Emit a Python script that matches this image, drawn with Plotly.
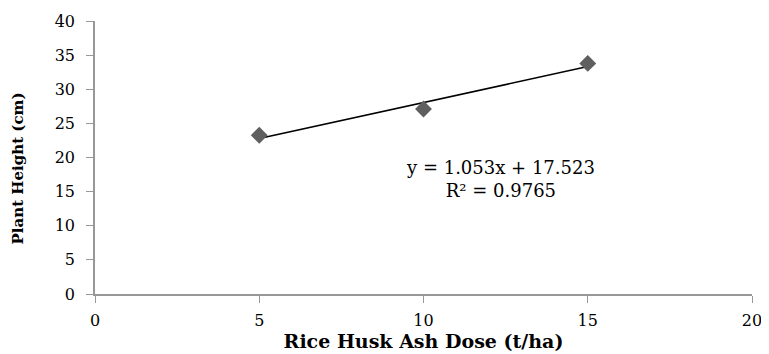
import plotly.graph_objects as go

dose = [5, 10, 15]
height = [23.26, 27.11, 33.79]
slope = 1.053
intercept = 17.523
trend_x = [5, 15]
trend_y = [slope * x + intercept for x in trend_x]
eq_text = "y = 1.053x + 17.523<br>R² = 0.9765"
x_title = "Rice Husk Ash Dose (t/ha)"
y_title = "Plant Height (cm)"

font_family = "DejaVu Serif"

fig = go.Figure()
fig.add_trace(go.Scatter(x=trend_x, y=trend_y, mode="lines",
                         line=dict(color="black", width=1.5), showlegend=False))
fig.add_trace(go.Scatter(x=dose, y=height, mode="markers",
                         marker=dict(symbol="diamond", size=13, color="#5f5f5f"),
                         showlegend=False))
fig.add_annotation(x=12.33, y=16.8, text=eq_text, showarrow=False,
                   font=dict(family=font_family, size=18, color="black"), align="center")
fig.add_annotation(xref="paper", yref="paper", x=-0.1172, y=0.46, xanchor="center",
                   yanchor="middle", text="<b>" + y_title + "</b>", textangle=-90,
                   showarrow=False, font=dict(family=font_family, size=15, color="black"))

axis_common = dict(showgrid=False, zeroline=False, showline=True, linecolor="#989898",
                   linewidth=1.5, ticks="outside", ticklen=7, tickcolor="#989898",
                   automargin=False,
                   tickfont=dict(family=font_family, size=16, color="black"))
fig.update_xaxes(range=[0, 20], dtick=5, tick0=0, ticklabelstandoff=4,
                 title=dict(text="<b>" + x_title + "</b>",
                            font=dict(family=font_family, size=19, color="black"), standoff=4),
                 **axis_common)
fig.update_yaxes(range=[0, 40], dtick=5, tick0=0, ticklabelstandoff=8,
                 **axis_common)
fig.update_layout(width=761, height=346, margin=dict(l=87, r=17, t=13, b=60),
                  plot_bgcolor="white", paper_bgcolor="white")
fig.write_html("out.html")
